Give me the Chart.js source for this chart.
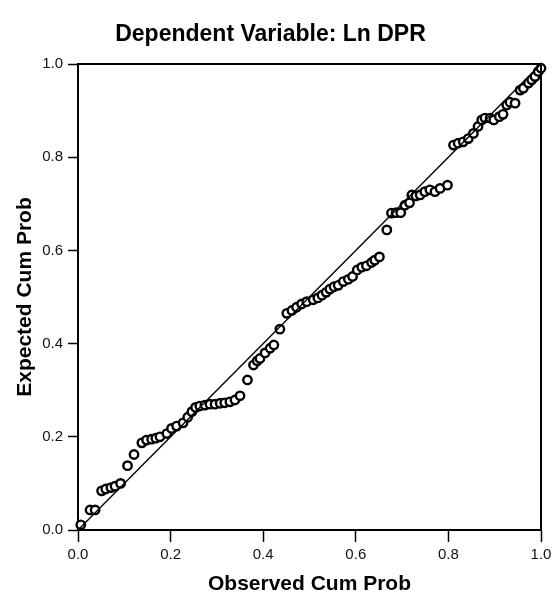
<!DOCTYPE html>
<html>
<head>
<meta charset="utf-8">
<script src="https://cdn.jsdelivr.net/npm/chart.js@4/dist/chart.umd.min.js"></script>
<style>
  body { margin: 0; background: #fff; }
  #wrap { width: 556px; height: 599px; }
</style>
</head>
<body>
<div id="wrap"><canvas id="ppChart" width="556" height="599"></canvas></div>
<script>
// observed vs expected cumulative probabilities
const obsProb = [
  0.006, 0.026, 0.037, 0.051, 0.060, 0.071, 0.080, 0.092, 0.107, 0.121,
  0.138, 0.148, 0.159, 0.168, 0.177, 0.192, 0.202, 0.213, 0.227, 0.237,
  0.246, 0.254, 0.263, 0.274, 0.285, 0.296, 0.307, 0.317, 0.328, 0.339,
  0.350, 0.366, 0.379, 0.387, 0.393, 0.404, 0.415, 0.423, 0.436, 0.451,
  0.462, 0.472, 0.483, 0.494, 0.508, 0.518, 0.527, 0.536, 0.544, 0.553,
  0.562, 0.573, 0.584, 0.593, 0.603, 0.613, 0.623, 0.634, 0.641, 0.651,
  0.667, 0.677, 0.687, 0.697, 0.706, 0.716, 0.721, 0.730, 0.739, 0.749,
  0.760, 0.771, 0.782, 0.798, 0.811, 0.821, 0.832, 0.843, 0.854, 0.864,
  0.872, 0.879, 0.890, 0.898, 0.910, 0.918, 0.926, 0.933, 0.944, 0.955,
  0.962, 0.973, 0.980, 0.987, 0.994, 1.000
];
const expProb = [
  0.011, 0.043, 0.043, 0.084, 0.088, 0.091, 0.094, 0.100, 0.138, 0.162,
  0.187, 0.193, 0.195, 0.197, 0.200, 0.207, 0.218, 0.223, 0.230, 0.242,
  0.254, 0.263, 0.266, 0.268, 0.270, 0.270, 0.272, 0.273, 0.275, 0.279,
  0.288, 0.322, 0.354, 0.363, 0.368, 0.380, 0.390, 0.397, 0.431, 0.465,
  0.471, 0.478, 0.485, 0.490, 0.494, 0.498, 0.504, 0.510, 0.517, 0.522,
  0.525, 0.533, 0.538, 0.544, 0.558, 0.564, 0.567, 0.574, 0.579, 0.586,
  0.644, 0.680, 0.681, 0.681, 0.697, 0.702, 0.719, 0.717, 0.719, 0.726,
  0.730, 0.726, 0.733, 0.740, 0.826, 0.830, 0.833, 0.840, 0.851, 0.866,
  0.880, 0.884, 0.884, 0.880, 0.887, 0.892, 0.912, 0.918, 0.916, 0.944,
  0.948, 0.959, 0.966, 0.973, 0.984, 0.991
];
const refLine = [0, 1];
const tickValues = [0, 0.2, 0.4, 0.6, 0.8, 1.0];

const chartTitle = 'Dependent Variable: Ln DPR';
const xTitle = 'Observed Cum Prob';
const yTitle = 'Expected Cum Prob';

const FONT = "'Liberation Sans', Arial, Helvetica, sans-serif";

// closes the box on top and right
const frameBox = {
  id: 'frameBox',
  afterDatasetsDraw(chart) {
    const { ctx, chartArea: a } = chart;
    ctx.save();
    ctx.strokeStyle = '#000';
    ctx.lineWidth = 2;
    ctx.beginPath();
    ctx.moveTo(a.left, a.top);
    ctx.lineTo(a.right, a.top);
    ctx.lineTo(a.right, a.bottom);
    ctx.stroke();
    ctx.restore();
  }
};

function axisOpts(title, isX) {
  return {
    type: 'linear',
    min: 0,
    max: 1,
    afterBuildTicks: s => { s.ticks = tickValues.map(v => ({ value: v })); },
    afterFit: s => {
      if (isX) s.height = 69; else s.width = 78;
    },
    grid: {
      drawOnChartArea: false,
      drawTicks: true,
      tickLength: isX ? 12 : 10,
      tickWidth: 1.5,
      tickColor: '#000'
    },
    border: { display: true, color: '#000', width: 2 },
    ticks: {
      color: '#111',
      padding: isX ? 4 : 5,
      font: { family: FONT, size: 15 },
      callback: v => Number(v).toFixed(1)
    },
    title: {
      display: true,
      text: title,
      color: '#000',
      font: { family: FONT, size: 21, weight: 'bold' },
      padding: isX ? { top: 0, bottom: 2 } : { top: 13, bottom: 0 }
    }
  };
}

const ctx = document.getElementById('ppChart').getContext('2d');
new Chart(ctx, {
  data: {
    datasets: [
      {
        type: 'line',
        data: refLine.map(v => ({ x: v, y: v })),
        borderColor: '#000',
        borderWidth: 1.4,
        pointRadius: 0,
        fill: false,
        order: 0
      },
      {
        type: 'scatter',
        data: obsProb.map((v, i) => ({ x: v, y: expProb[i] })),
        pointStyle: 'circle',
        pointRadius: 4.2,
        borderWidth: 2.4,
        borderColor: '#000',
        backgroundColor: '#fff',
        clip: false,
        order: 1
      }
    ]
  },
  options: {
    responsive: false,
    animation: false,
    layout: { padding: { left: 0, right: 15, top: 0, bottom: 0 } },
    scales: {
      x: axisOpts(xTitle, true),
      y: axisOpts(yTitle, false)
    },
    plugins: {
      legend: { display: false },
      tooltip: { enabled: false },
      title: {
        display: true,
        text: chartTitle,
        color: '#000',
        font: { family: FONT, size: 23, weight: 'bold' },
        padding: { top: 21, bottom: 15.4 }
      }
    }
  },
  plugins: [frameBox]
});
</script>
</body>
</html>
